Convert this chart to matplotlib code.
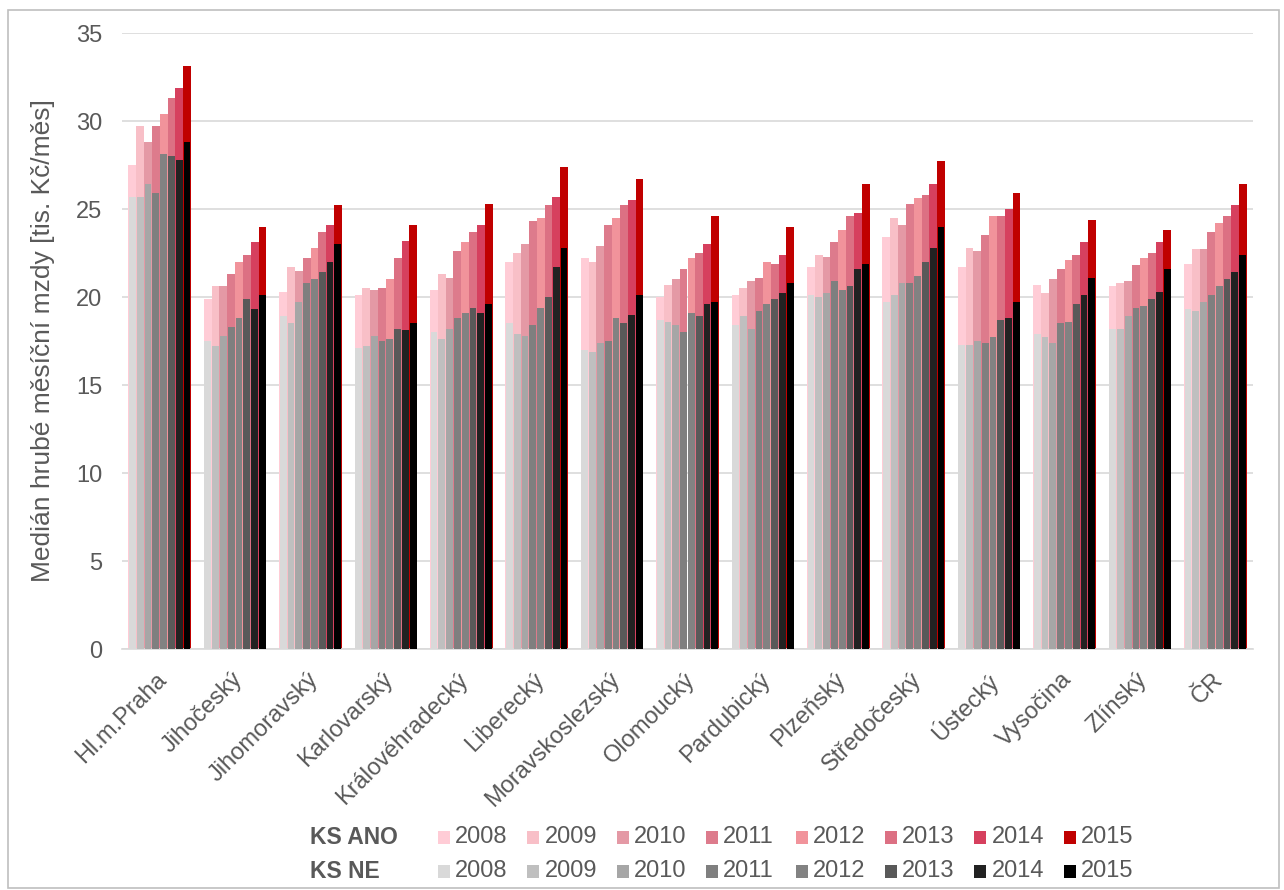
import matplotlib
matplotlib.use("Agg")
import matplotlib.pyplot as plt
from matplotlib.patches import Rectangle
import numpy as np

regions = ["Hl.m.Praha", "Jihočeský", "Jihomoravský", "Karlovarský", "Královéhradecký",
           "Liberecký", "Moravskoslezský", "Olomoucký", "Pardubický", "Plzeňský",
           "Středočeský", "Ústecký", "Vysočina", "Zlínský", "ČR"]
years = ["2008", "2009", "2010", "2011", "2012", "2013", "2014", "2015"]

# KS ANO values [tis. Kč/měs], one list per year, in region order
ano_2008 = [27.5, 19.9, 20.3, 20.1, 20.4, 22.0, 22.2, 20.0, 20.1, 21.7, 23.4, 21.7, 20.7, 20.6, 21.9]
ano_2009 = [29.7, 20.6, 21.7, 20.5, 21.3, 22.5, 22.0, 20.7, 20.5, 22.4, 24.5, 22.8, 20.2, 20.8, 22.7]
ano_2010 = [28.8, 20.6, 21.5, 20.4, 21.1, 23.0, 22.9, 21.0, 20.9, 22.3, 24.1, 22.6, 21.0, 20.9, 22.7]
ano_2011 = [29.7, 21.3, 22.2, 20.5, 22.6, 24.3, 24.1, 21.6, 21.1, 23.1, 25.3, 23.5, 21.6, 21.8, 23.7]
ano_2012 = [30.4, 22.0, 22.8, 21.0, 23.1, 24.5, 24.5, 22.2, 22.0, 23.8, 25.6, 24.6, 22.1, 22.2, 24.2]
ano_2013 = [31.3, 22.4, 23.7, 22.2, 23.7, 25.2, 25.2, 22.5, 21.9, 24.6, 25.8, 24.6, 22.4, 22.5, 24.6]
ano_2014 = [31.9, 23.1, 24.1, 23.2, 24.1, 25.7, 25.5, 23.0, 22.4, 24.8, 26.4, 25.0, 23.1, 23.1, 25.2]
ano_2015 = [33.1, 24.0, 25.2, 24.1, 25.3, 27.4, 26.7, 24.6, 24.0, 26.4, 27.7, 25.9, 24.4, 23.8, 26.4]

# KS NE values [tis. Kč/měs]
ne_2008 = [25.7, 17.5, 18.9, 17.1, 18.0, 18.5, 17.0, 18.7, 18.4, 20.1, 19.7, 17.3, 17.9, 18.2, 19.3]
ne_2009 = [25.7, 17.2, 18.5, 17.2, 17.6, 17.9, 16.9, 18.6, 18.9, 20.0, 20.1, 17.3, 17.7, 18.2, 19.2]
ne_2010 = [26.4, 17.8, 19.7, 17.8, 18.2, 17.8, 17.4, 18.4, 18.2, 20.2, 20.8, 17.5, 17.4, 18.9, 19.7]
ne_2011 = [25.9, 18.3, 20.8, 17.5, 18.8, 18.4, 17.5, 18.0, 19.2, 20.9, 20.8, 17.4, 18.5, 19.4, 20.1]
ne_2012 = [28.1, 18.8, 21.0, 17.6, 19.1, 19.4, 18.8, 19.1, 19.6, 20.4, 21.2, 17.7, 18.6, 19.5, 20.6]
ne_2013 = [28.0, 19.9, 21.4, 18.2, 19.4, 20.0, 18.5, 18.9, 19.9, 20.6, 22.0, 18.7, 19.6, 19.9, 21.0]
ne_2014 = [27.8, 19.3, 22.0, 18.1, 19.1, 21.7, 19.0, 19.6, 20.2, 21.6, 22.8, 18.8, 20.1, 20.3, 21.4]
ne_2015 = [28.8, 20.1, 23.0, 18.5, 19.6, 22.8, 20.1, 19.7, 20.8, 21.9, 24.0, 19.7, 21.1, 21.6, 22.4]

ano = [ano_2008, ano_2009, ano_2010, ano_2011, ano_2012, ano_2013, ano_2014, ano_2015]
ne = [ne_2008, ne_2009, ne_2010, ne_2011, ne_2012, ne_2013, ne_2014, ne_2015]

ano_colors = ["#FFCCD6", "#F8BFC7", "#E499A5", "#DD7B8C", "#F1939B", "#DC7083", "#D6405E", "#C00000"]
ne_colors = ["#D9D9D9", "#BFBFBF", "#A6A6A6", "#7F7F7F", "#828282", "#595959", "#222222", "#000000"]

plt.rcParams['font.family'] = ['Liberation Sans', 'DejaVu Sans']
txt_color = "#595959"

fig = plt.figure(figsize=(12.84, 8.9), dpi=100)
ax = fig.add_axes([122/1284, 1 - 649/890, (1253-122)/1284, (649-33)/890])

x = np.arange(len(regions))
w = 0.1035
for i in range(len(years)):
    off = (i - 3.5) * w
    ax.bar(x + off, ano[i], width=w, color=ano_colors[i], edgecolor="none", zorder=2)
for i in range(len(years)):
    off = (i - 3.5) * w
    ax.bar(x + off, ne[i], width=w * 0.86, color=ne_colors[i], edgecolor="none", zorder=3)

ax.set_xlim(-0.5, len(regions) - 0.5)
ax.set_ylim(0, 35)
ax.set_yticks(np.arange(0, 36, 5))
ax.yaxis.grid(True, color="#D9D9D9", linewidth=1.2, zorder=0)
ax.set_axisbelow(True)
for s in ["top", "right", "left"]:
    ax.spines[s].set_visible(False)
ax.spines["bottom"].set_color("#D9D9D9")
ax.spines["bottom"].set_linewidth(1.2)
ax.tick_params(axis="both", length=0, labelsize=17, colors=txt_color)
ax.tick_params(axis="y", pad=14)
ax.set_xticks(x - 0.05)
ax.set_xticklabels(regions, rotation=45, ha="right", rotation_mode="anchor")
ax.tick_params(axis="x", pad=14)
ax.set_ylabel("Medián hrubé měsíční mzdy [tis. Kč/měs]", fontsize=19, color=txt_color, labelpad=15)

# legend drawn manually
rows = [("KS ANO", ano_colors, 837), ("KS NE", ne_colors, 871)]
for label, cols, ypx in rows:
    yf = 1 - ypx / 890
    fig.text(310 / 1284, yf, label, fontsize=16.5, fontweight="bold", color=txt_color,
             va="center", ha="left")
    for j, yr in enumerate(years):
        px = 438 + j * 89.4
        fig.patches.append(Rectangle((px / 1284, yf - 6.5 / 890), 12 / 1284, 13 / 890,
                                     transform=fig.transFigure, facecolor=cols[j],
                                     edgecolor="none"))
        fig.text((px + 17) / 1284, yf, yr, fontsize=17, color=txt_color,
                 va="center", ha="left")

# outer border
fig.patches.append(Rectangle((8 / 1284, 2 / 890), 1271 / 1284, 878 / 890,
                             transform=fig.transFigure, facecolor="none",
                             edgecolor="#BFBFBF", linewidth=1.2))

fig.savefig("out.png", dpi=100)
